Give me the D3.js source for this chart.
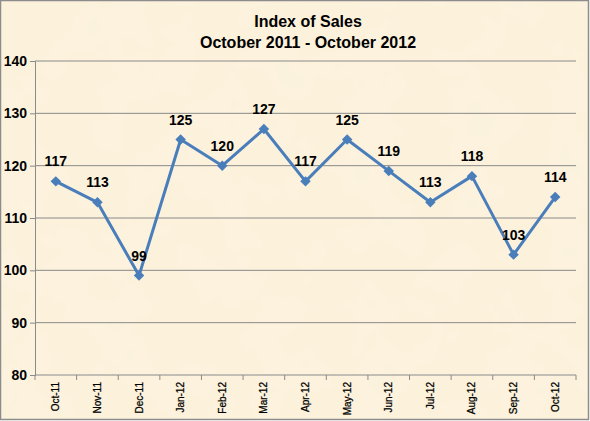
<!DOCTYPE html>
<html>
<head>
<meta charset="utf-8">
<script src="https://cdn.jsdelivr.net/npm/d3@7"></script>
<style>
  body { margin: 0; background: #fff; }
  svg { display: block; }
</style>
</head>
<body>
<div id="chart"></div>
<script>
// chart data
var months = ["Oct-11", "Nov-11", "Dec-11", "Jan-12", "Feb-12", "Mar-12", "Apr-12",
              "May-12", "Jun-12", "Jul-12", "Aug-12", "Sep-12", "Oct-12"];
var salesIndex = [117, 113, 99, 125, 120, 127, 117, 125, 119, 113, 118, 103, 114];
var yTicks = [80, 90, 100, 110, 120, 130, 140];
var titleLines = ["Index of Sales", "October 2011 - October 2012"];

var width = 590, height = 421;
var margin = {top: 61, right: 14, bottom: 46, left: 35};
var innerW = width - margin.left - margin.right,
    innerH = height - margin.top - margin.bottom;

var svg = d3.select("#chart").append("svg")
    .attr("width", width).attr("height", height);

// parchment background with a little mottling
var defs = svg.append("defs");
var filt = defs.append("filter").attr("id", "paper").attr("x", 0).attr("y", 0)
    .attr("width", "100%").attr("height", "100%");
filt.append("feTurbulence").attr("type", "fractalNoise")
    .attr("baseFrequency", 0.02).attr("numOctaves", 3).attr("seed", 4).attr("result", "n");
filt.append("feColorMatrix").attr("in", "n").attr("type", "matrix")
    .attr("values", "0 0 0 0 0.95  0 0 0 0 0.89  0 0 0 0 0.76  0 0 0 0.45 -0.15");

svg.append("rect")
    .attr("x", 0.5).attr("y", 0.5)
    .attr("width", width - 2).attr("height", height - 2)
    .attr("fill", "#fcf2dc");
svg.append("rect")
    .attr("x", 1).attr("y", 1)
    .attr("width", width - 3).attr("height", height - 3)
    .attr("filter", "url(#paper)");
svg.append("rect")
    .attr("x", 0.5).attr("y", 0.5)
    .attr("width", width - 2).attr("height", height - 2)
    .attr("fill", "none").attr("stroke", "#8c8c8c").attr("stroke-width", 1.5);

// title
svg.append("g").selectAll("text")
    .data(titleLines)
    .enter().append("text")
    .attr("x", 308)
    .attr("y", function(d, i) { return 27 + i * 21; })
    .attr("text-anchor", "middle")
    .attr("font-family", "Liberation Sans, Arial, sans-serif")
    .attr("font-weight", "bold")
    .attr("font-size", "16px")
    .attr("fill", "#000")
    .text(function(d) { return d; });

var g = svg.append("g")
    .attr("transform", "translate(" + margin.left + "," + margin.top + ")");

var x = d3.scaleBand().domain(months).range([0, innerW]);
var y = d3.scaleLinear().domain([80, 140]).range([innerH, 0]);

// horizontal gridlines
g.append("g").selectAll("line")
    .data(yTicks.slice(1))
    .enter().append("line")
    .attr("x1", 0).attr("x2", innerW)
    .attr("y1", function(d) { return y(d); })
    .attr("y2", function(d) { return y(d); })
    .attr("stroke", "#8a8a8a").attr("stroke-width", 1);

// y axis
var yAxis = g.append("g")
    .call(d3.axisLeft(y).tickValues(yTicks).tickSize(5).tickPadding(4));
yAxis.select(".domain").attr("stroke", "#8a8a8a");
yAxis.selectAll(".tick line").attr("stroke", "#8a8a8a");
yAxis.selectAll(".tick text")
    .attr("font-family", "Liberation Sans, Arial, sans-serif")
    .attr("font-weight", "bold")
    .attr("font-size", "14px")
    .attr("fill", "#000")
    .attr("x", -8);

// x axis: ticks between categories
var xAxisG = g.append("g").attr("transform", "translate(0," + innerH + ")");
xAxisG.append("line")
    .attr("x1", 0).attr("x2", innerW)
    .attr("stroke", "#8a8a8a");
xAxisG.selectAll(".sep")
    .data(months)
    .enter().append("line")
    .attr("class", "sep")
    .attr("x1", function(d) { return x(d) + x.bandwidth(); })
    .attr("x2", function(d) { return x(d) + x.bandwidth(); })
    .attr("y1", 0).attr("y2", 5)
    .attr("stroke", "#8a8a8a");
xAxisG.append("line")
    .attr("x1", 0).attr("x2", 0).attr("y1", 0).attr("y2", 5)
    .attr("stroke", "#8a8a8a");
xAxisG.selectAll(".lbl")
    .data(months)
    .enter().append("text")
    .attr("class", "lbl")
    .attr("transform", function(d) {
        return "translate(" + (x(d) + x.bandwidth() / 2 + 3.5) + ",7) rotate(-90)";
    })
    .attr("text-anchor", "end")
    .attr("font-family", "Liberation Sans, Arial, sans-serif")
    .attr("font-size", "10px")
    .attr("stroke", "#000")
    .attr("stroke-width", 0.25)
    .attr("fill", "#000")
    .text(function(d) { return d; });

// the sales line
var line = d3.line()
    .x(function(d, i) { return x(months[i]) + x.bandwidth() / 2; })
    .y(function(d) { return y(d); });

g.append("path")
    .datum(salesIndex)
    .attr("fill", "none")
    .attr("stroke", "#4a7ebb")
    .attr("stroke-width", 3)
    .attr("stroke-linejoin", "round")
    .attr("d", line);

// diamond markers
g.append("g").selectAll("path")
    .data(salesIndex)
    .enter().append("path")
    .attr("transform", function(d, i) {
        return "translate(" + (x(months[i]) + x.bandwidth() / 2) + "," + y(d) + ")";
    })
    .attr("d", d3.symbol().type(d3.symbolDiamond2).size(70))
    .attr("fill", "#4a7ebb");

// data labels
g.append("g").selectAll("text")
    .data(salesIndex)
    .enter().append("text")
    .attr("x", function(d, i) { return x(months[i]) + x.bandwidth() / 2; })
    .attr("y", function(d) { return y(d) - 15; })
    .attr("text-anchor", "middle")
    .attr("font-family", "Liberation Sans, Arial, sans-serif")
    .attr("font-weight", "bold")
    .attr("font-size", "14px")
    .attr("fill", "#000")
    .text(function(d) { return d; });
</script>
</body>
</html>
